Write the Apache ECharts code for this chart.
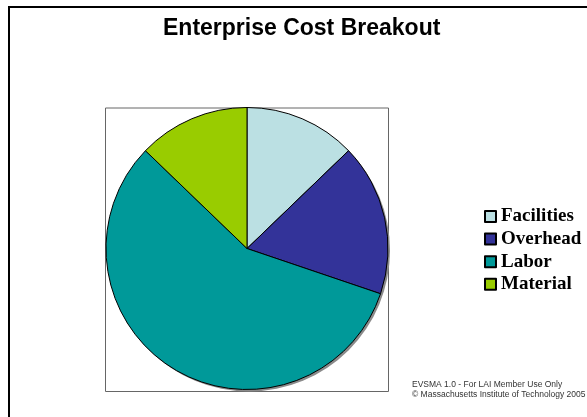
<!DOCTYPE html>
<html>
<head>
<meta charset="utf-8">
<script src="https://cdn.jsdelivr.net/npm/echarts@6/dist/echarts.min.js"></script>
<style>
  html, body { margin: 0; padding: 0; background: #fff; }
  #chart { width: 587px; height: 417px; }
</style>
</head>
<body>
<div id="chart"></div>
<script>
// cost shares (percent)
var categories = ['Facilities', 'Overhead', 'Labor', 'Material'];
var costShare = [12.8, 17.4, 57.0, 12.8];
var sliceColors = ['#BBE0E3', '#333399', '#009999', '#99CC00'];

var footerLines = [
    'EVSMA 1.0 - For LAI Member Use Only',
    '\u00A9 Massachusetts Institute of Technology 2005'
];

var pieCenter = [247, 248.5];
var pieRadius = 141;

var chart = echarts.init(document.getElementById('chart'));

var pieData = categories.map(function (name, i) {
    return {
        name: name,
        value: costShare[i],
        itemStyle: { color: sliceColors[i] }
    };
});

var option = {
    backgroundColor: '#fff',
    animation: false,
    title: {
        text: 'Enterprise Cost Breakout',
        left: 163,
        top: 17,
        padding: 0,
        textStyle: {
            fontFamily: 'Liberation Sans, Arial, sans-serif',
            fontWeight: 'bold',
            fontSize: 23,
            color: '#000'
        }
    },
    legend: {
        orient: 'vertical',
        left: 484,
        top: 207,
        padding: 0,
        icon: 'rect',
        itemWidth: 11,
        itemHeight: 11,
        itemGap: 3.6,
        selectedMode: false,
        data: categories,
        textStyle: {
            fontFamily: 'Liberation Serif, Times New Roman, serif',
            fontWeight: 'bold',
            fontSize: 19,
            lineHeight: 18,
            color: '#000'
        }
    },
    graphic: [
        // page border (top and left edges only visible)
        { type: 'line', shape: { x1: 8, y1: 7, x2: 587, y2: 7 }, style: { stroke: '#000', lineWidth: 2 }, silent: true },
        { type: 'line', shape: { x1: 9, y1: 6, x2: 9, y2: 417 }, style: { stroke: '#000', lineWidth: 2 }, silent: true },
        // plot area frame
        { type: 'rect', shape: { x: 105.5, y: 108, width: 283, height: 283.5 }, style: { fill: null, stroke: '#666', lineWidth: 1 }, silent: true, z: -1 },
        { type: 'text', left: 412, top: 380, style: { text: footerLines[0], font: '8.5px Liberation Sans, Arial, sans-serif', fill: '#333' }, silent: true },
        { type: 'text', left: 412, top: 390, style: { text: footerLines[1], font: '8.5px Liberation Sans, Arial, sans-serif', fill: '#333' }, silent: true }
    ],
    series: [
        {
            // drop shadow under the pie
            type: 'pie',
            silent: true,
            center: [pieCenter[0] + 2, pieCenter[1] + 2],
            radius: pieRadius,
            label: { show: false },
            labelLine: { show: false },
            legendHoverLink: false,
            itemStyle: { color: '#8a8a8a', borderWidth: 0 },
            data: [{ name: '', value: 1 }],
            z: 1
        },
        {
            name: 'Cost',
            type: 'pie',
            center: pieCenter,
            radius: pieRadius,
            startAngle: 90,
            clockwise: true,
            label: { show: false },
            labelLine: { show: false },
            itemStyle: { borderColor: '#000', borderWidth: 1 },
            emphasis: { disabled: true },
            data: pieData,
            z: 2
        }
    ]
};

chart.setOption(option);
</script>
</body>
</html>
